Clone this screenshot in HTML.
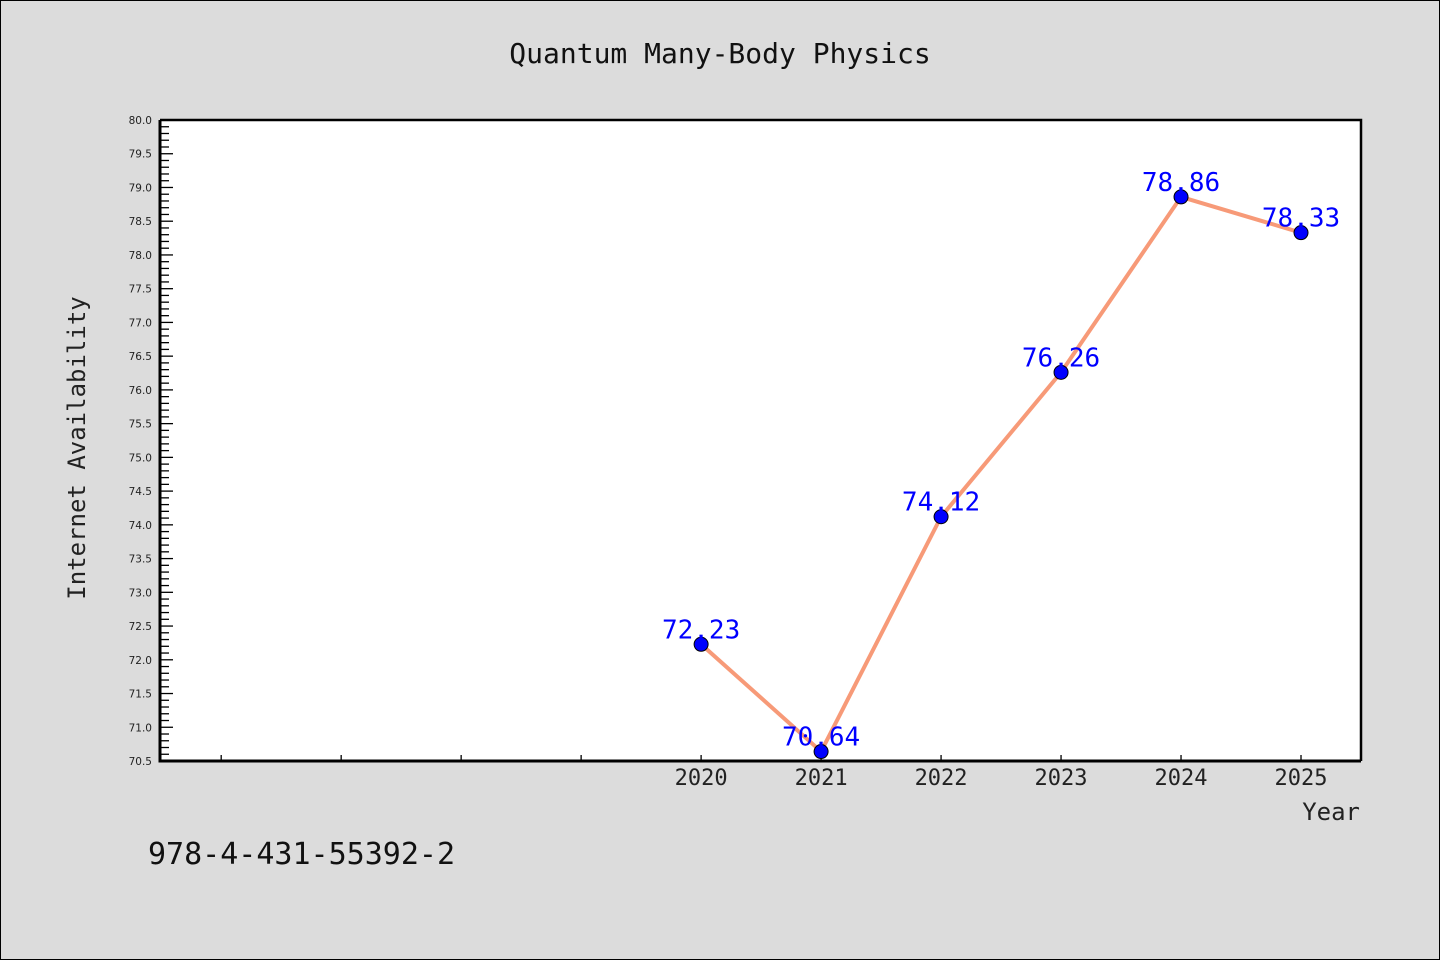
<!DOCTYPE html>
<html><head><meta charset="utf-8"><style>
html,body{margin:0;padding:0;background:#dcdcdc;}
svg{display:block;}
</style></head><body>
<svg width="1440" height="960" xmlns="http://www.w3.org/2000/svg">
<rect x="0.5" y="0.5" width="1439" height="959" fill="#dcdcdc" stroke="#000"/>
<text x="720" y="63" text-anchor="middle" font-family="'DejaVu Sans Mono','WenQuanYi Zen Hei',monospace" font-size="28" fill="#111">Quantum Many-Body Physics</text>
<rect x="160" y="120" width="1201" height="641" fill="#fff"/>
<g id="yticks"></g>
<g id="xticks"></g>
<g id="series"></g>
<path d="M160 120 H1361 V761" fill="none" stroke="#000" stroke-width="2.5"/>
<path d="M160 120 V761 H1361" fill="none" stroke="#000" stroke-width="3"/>
<text x="85" y="448" transform="rotate(-90 85 448)" text-anchor="middle" font-family="'DejaVu Sans Mono','WenQuanYi Zen Hei',monospace" font-size="24" fill="#222">Internet Availability</text>
<text x="1360" y="820" text-anchor="end" font-family="'DejaVu Sans Mono','WenQuanYi Zen Hei',monospace" font-size="24" fill="#222">Year</text>
<text x="148" y="864" font-family="'DejaVu Sans Mono','WenQuanYi Zen Hei',monospace" font-size="30" fill="#111">978-4-431-55392-2</text>
</svg>
<script>
const years = [2020, 2021, 2022, 2023, 2024, 2025];
const values = [72.23, 70.64, 74.12, 76.26, 78.86, 78.33];
const yTickLabels = ["70.5","71.0","71.5","72.0","72.5","73.0","73.5","74.0","74.5","75.0","75.5","76.0","76.5","77.0","77.5","78.0","78.5","79.0","79.5","80.0"];
const xTickYears = [2016, 2017, 2018, 2019, 2020, 2021, 2022, 2023, 2024, 2025];

const NS = "http://www.w3.org/2000/svg";
const X0 = 160, X1 = 1361, Y0 = 761, Y1 = 120;
const xMin = 2015.49, xMax = 2025.5, yMin = 70.5, yMax = 80.0;
function xs(v){ return X0 + (v - xMin) / (xMax - xMin) * (X1 - X0); }
function ys(v){ return Y0 - (v - yMin) / (yMax - yMin) * (Y0 - Y1); }
function mk(tag, attrs, parent){ const e = document.createElementNS(NS, tag); for (const k in attrs) e.setAttribute(k, attrs[k]); parent.appendChild(e); return e; }

const yg = document.getElementById('yticks');
for (let i = 0; i <= 95; i++) {
  const v = yMin + i * 0.1;
  const y = ys(v);
  const major = i % 5 === 0;
  const t = mk('line', {x1: X0, x2: X0 + (major ? 13 : 9), y1: y, y2: y, stroke: '#000', 'stroke-width': 1.3}, yg);
  
  
}
yTickLabels.forEach(function(lbl){
  const tx = mk('text', {x: 152, y: ys(parseFloat(lbl)) + 4, 'text-anchor': 'end', 'font-family': "'DejaVu Sans','Liberation Sans',sans-serif", 'font-size': 10.5, fill: '#222'}, yg);
  tx.textContent = lbl;
  
  
});

const xg = document.getElementById('xticks');
xTickYears.forEach(function(yr){
  const x = xs(yr);
  const t = mk('line', {x1: x, x2: x, y1: Y0, y2: Y0 - 6, stroke: '#000', 'stroke-width': 1.3}, xg);
  
  
});
years.forEach(function(yr){
  const tx = mk('text', {x: xs(yr), y: 785, 'text-anchor': 'middle', 'font-family': "'DejaVu Sans Mono','WenQuanYi Zen Hei',monospace", 'font-size': 22, fill: '#222'}, xg);
  tx.textContent = String(yr);
  
  
});

const sg = document.getElementById('series');
const pts = years.map(function(yr, i){ return xs(yr) + ',' + ys(values[i]); }).join(' ');
const line = mk('polyline', {points: pts, fill: 'none', stroke: '#f79a78', 'stroke-width': 4, 'stroke-linejoin': 'round'}, sg);


years.forEach(function(yr, i){
  const c = mk('circle', {cx: xs(yr), cy: ys(values[i]), r: 7, fill: '#0000ff', stroke: '#000', 'stroke-width': 1}, sg);
  
  
});
years.forEach(function(yr, i){
  const tx = mk('text', {x: xs(yr), y: ys(values[i]) - 6, 'text-anchor': 'middle', 'font-family': "'DejaVu Sans Mono','WenQuanYi Zen Hei',monospace", 'font-size': 26, fill: '#0000ff'}, sg);
  tx.textContent = values[i].toFixed(2);
  
  
});
</script>
</body></html>
